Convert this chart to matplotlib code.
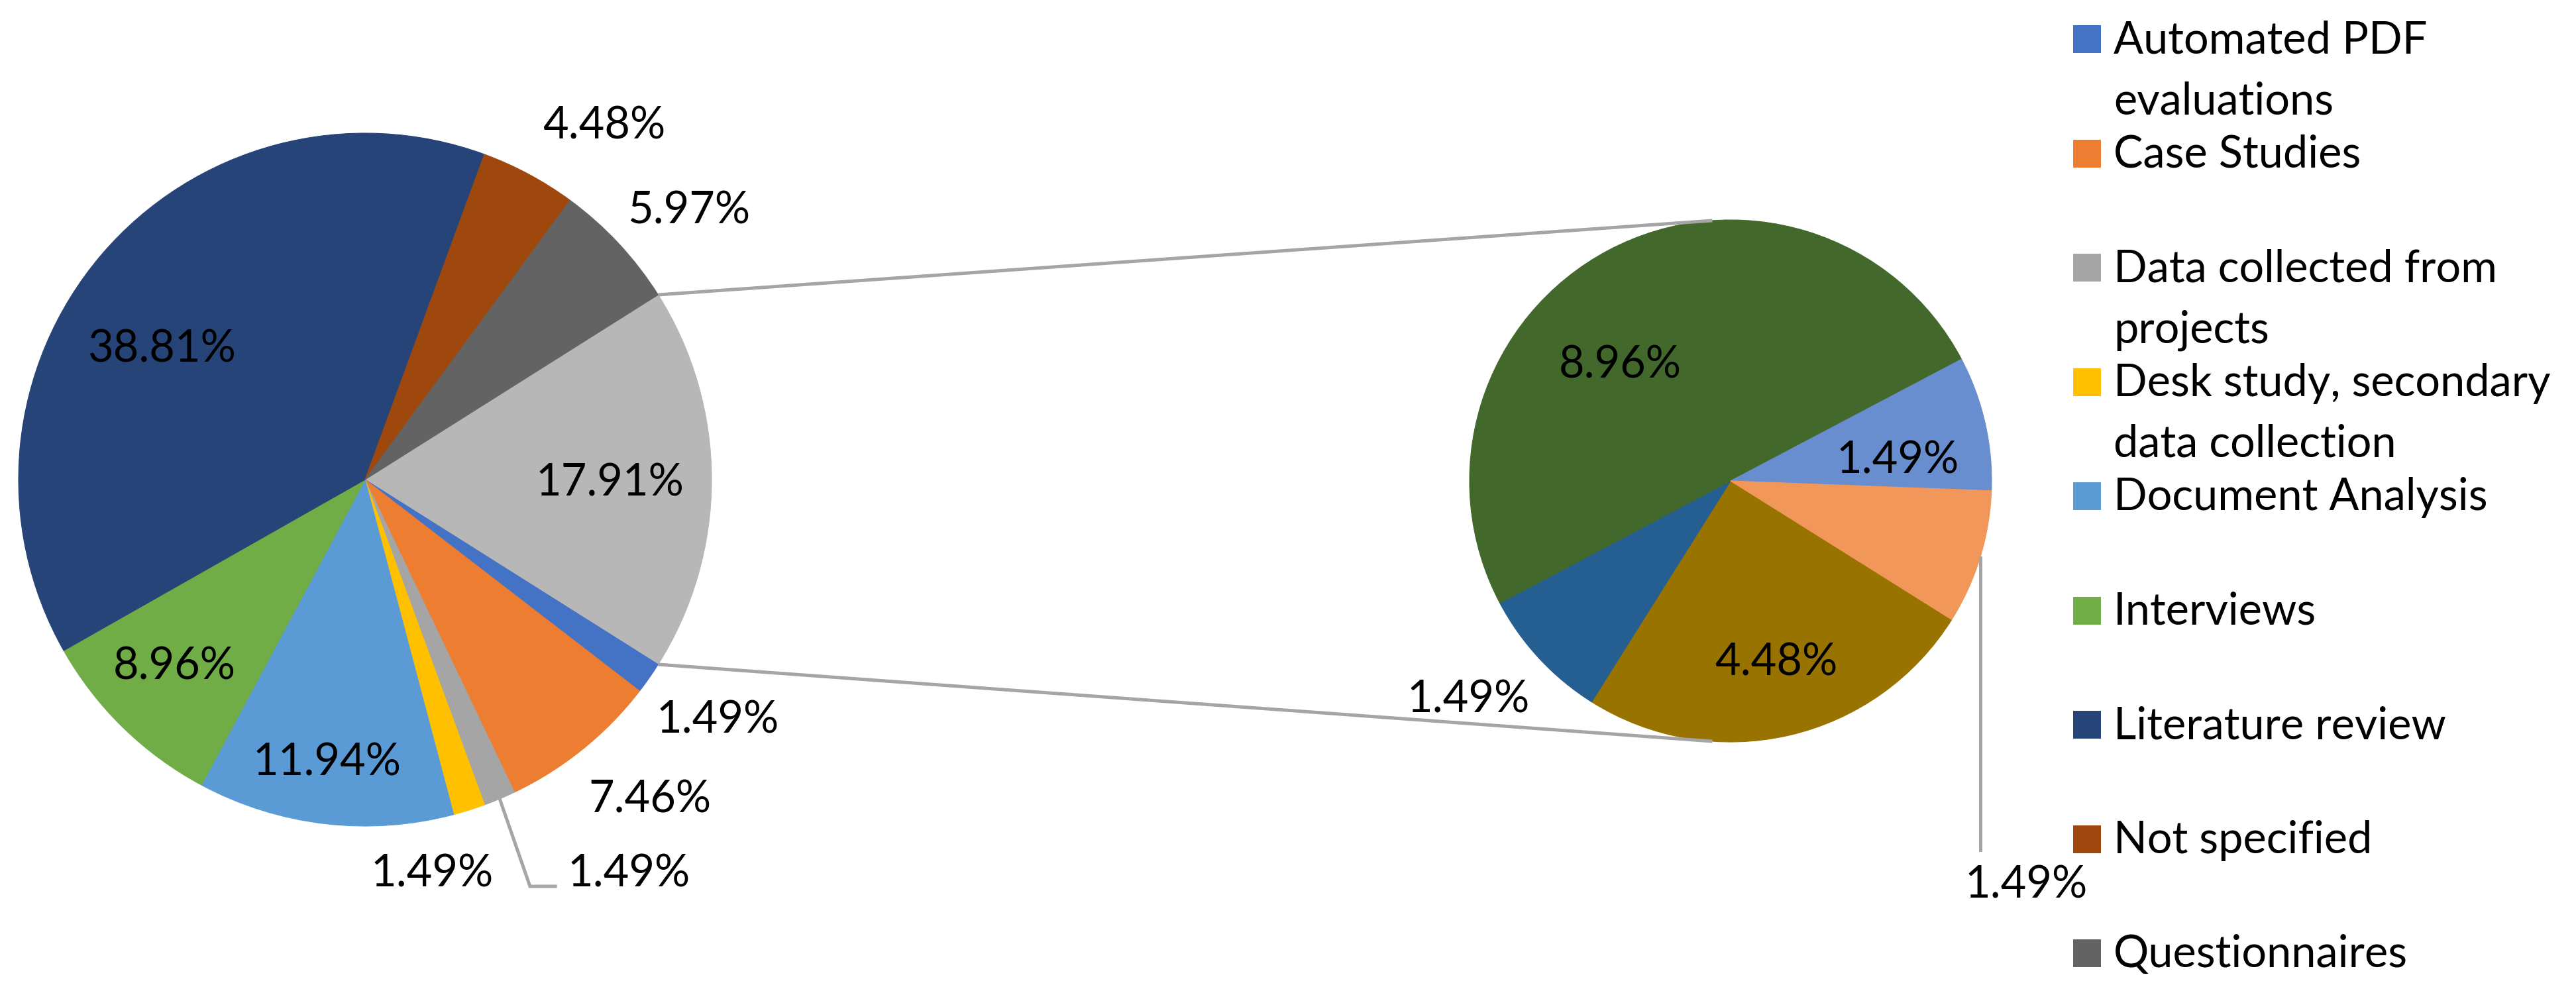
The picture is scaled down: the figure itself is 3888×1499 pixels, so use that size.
import textwrap
import numpy as np
import matplotlib
matplotlib.use("Agg")
import matplotlib.pyplot as plt
from matplotlib.patches import Rectangle

plt.rcParams['font.family'] = ['Lato', 'DejaVu Sans']

# ---------------- data ----------------
categories = ['Automated PDF evaluations', 'Case Studies', 'Data collected from projects',
              'Desk study, secondary data collection', 'Document Analysis', 'Interviews',
              'Literature review', 'Not specified', 'Questionnaires']
main_pct = [1.49, 7.46, 1.49, 1.49, 11.94, 8.96, 38.81, 4.48, 5.97]
# slices that are split out into the second pie (legend entries not visible)
sub_pct = [4.48, 1.49, 8.96, 1.49, 1.49]
other_pct = round(sum(sub_pct), 2)

main_colors = ['#4472C4', '#ED7D31', '#A5A5A5', '#FFC000', '#5B9BD5',
               '#70AD47', '#264478', '#9E480E', '#636363']
other_color = '#B7B7B7'
sub_colors = ['#997300', '#255E91', '#43682B', '#698ED0', '#F1975A']

# ---------------- layout (pixels) ----------------
W, H = 3888, 1499
FS = 48          # label font size (pt at dpi 100)
CAP = 48         # cap height in px, used to centre digits
LINE_C = '#A5A5A5'
LW = 3.6

left_c, left_r = (551, 775), 523
right_c, right_r = (2612, 773), 394

# label placement: (fraction of radius, angle in degrees)
left_lab = [(0.707, 0), (1.227, -34.0), (1.23, -48.1), None, (1.145, -80.3),
            (0.816, -97.7), (0.765, -136.0), (0.703, 146.7), (1.24, 56.2), (1.22, 40.0)]
right_lab = [(0.707, -75.7), (1.30, 219.4), (0.623, 132.9), (0.646, 8.1), None]

fig = plt.figure(figsize=(W / 100, H / 100), dpi=100)
ax = fig.add_axes([0, 0, 1, 1])

left_vals = [other_pct] + main_pct
left_cols = [other_color] + main_colors
w1, _ = ax.pie(left_vals, colors=left_cols, center=left_c, radius=left_r,
               startangle=other_pct * 3.6 / 2, counterclock=False)
w2, _ = ax.pie(sub_pct, colors=sub_colors, center=right_c, radius=right_r,
               startangle=-32.1, counterclock=False)
for w in list(w1) + list(w2):
    w.set_edgecolor(w.get_facecolor())
    w.set_linewidth(0.8)

ax.set_xlim(0, W)
ax.set_ylim(0, H)
ax.set_aspect('auto')
ax.axis('off')


def on_circle(c, r, ang, frac=1.0):
    a = np.radians(ang)
    return c[0] + frac * r * np.cos(a), c[1] + frac * r * np.sin(a)


def mid(w):
    return (w.theta1 + w.theta2) / 2


# connector lines between the "other" slice and the second pie
ow = w1[0]
for a_left, a_right in [(ow.theta2, 94.0), (ow.theta1, 266.0)]:
    x0, y0 = on_circle(left_c, left_r, a_left)
    x1, y1 = on_circle(right_c, right_r, a_right)
    ax.plot([x0, x1], [y0, y1], color=LINE_C, lw=LW, solid_capstyle='butt')


def put_label(c, r, frac, ang, val):
    x, y = on_circle(c, r, ang, frac)
    ax.text(x, y - CAP / 2, f'{val:.2f}%', ha='center', va='baseline', fontsize=FS)


for v, lab in zip(left_vals, left_lab):
    if lab is not None:
        put_label(left_c, left_r, lab[0], lab[1], v)
for v, lab in zip(sub_pct, right_lab):
    if lab is not None:
        put_label(right_c, right_r, lab[0], lab[1], v)

# leader line: "Data collected from projects"
x0, y0 = on_circle(left_c, left_r, mid(w1[3]))
ly = left_c[1] - 1.174 * left_r
ax.plot([x0, left_c[0] + 0.476 * left_r, left_c[0] + 0.549 * left_r], [y0, ly, ly],
        color=LINE_C, lw=LW, solid_joinstyle='miter')
ax.text(left_c[0] + 0.585 * left_r, ly, f'{left_vals[3]:.2f}%', ha='left',
        va='baseline', fontsize=FS)

# leader line: last slice of the second pie
x0, y0 = on_circle(right_c, right_r, mid(w2[4]))
ax.plot([x0, x0], [y0, right_c[1] - 1.414 * right_r], color=LINE_C, lw=LW)
ax.text(right_c[0] + 0.898 * right_r, right_c[1] - 1.538 * right_r - CAP / 2,
        f'{sub_pct[4]:.2f}%', ha='left', va='baseline', fontsize=FS)

# legend
sq = 42
for i, (name, col) in enumerate(zip(categories, main_colors)):
    cy = H - (59 + 172.5 * i)
    ax.add_patch(Rectangle((3129, cy - sq / 2), sq, sq, color=col, lw=0))
    for j, line in enumerate(textwrap.wrap(name, 21)):
        ax.text(3190, cy - sq / 2 - 92 * j, line, ha='left', va='baseline', fontsize=FS)

fig.savefig('out.png', dpi=100)
